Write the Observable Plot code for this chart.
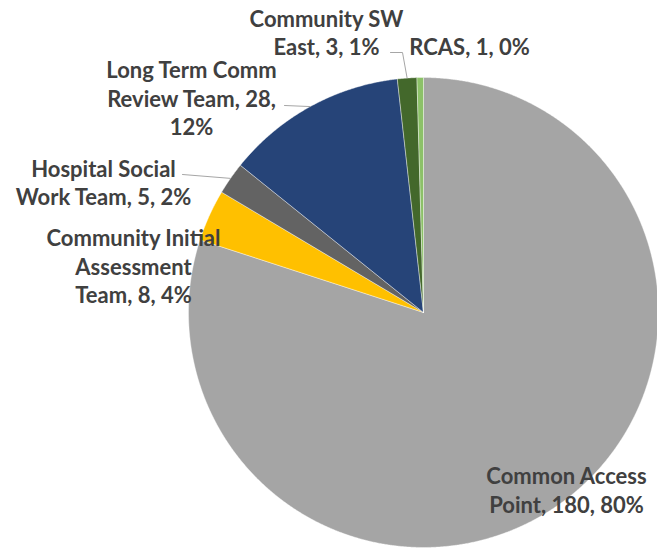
<!DOCTYPE html>
<html>
<head>
<meta charset="utf-8">
<script src="https://cdn.jsdelivr.net/npm/d3@7"></script>
<script src="https://cdn.jsdelivr.net/npm/@observablehq/plot@0.6"></script>
<style>
  html, body { margin: 0; padding: 0; background: #ffffff; }
</style>
</head>
<body>
<div id="chart"></div>
<script>
// ---- data ----
const categories = [
  "Common Access Point",
  "Community Initial Assessment Team",
  "Hospital Social Work Team",
  "Long Term Comm Review Team",
  "Community SW East",
  "RCAS"
];
const values = [180, 8, 5, 28, 3, 1];
const labelTexts = [
  "Common Access\nPoint, 180, 80%",
  "Community Initial\nAssessment\nTeam, 8, 4%",
  "Hospital Social\nWork Team, 5, 2%",
  "Long Term Comm\nReview Team, 28,\n12%",
  "Community SW\nEast, 3, 1%",
  "RCAS, 1, 0%"
];
const colors = ["#a5a5a5", "#ffc000", "#636363", "#264478", "#43682b", "#8cc168"];

// ---- layout (label placement, in units of the pie radius) ----
const cx = 423, cy = 312, R = 235;
const toX = px => (px - cx) / R;
const toY = py => (cy - py) / R;
const labelPos = [
  [566, 489],
  [133, 265],
  [103, 181.5],
  [191, 97],
  [326, 31.5],
  [469, 45]
];
// leader start points (label side) — null when no leader
const leaderStart = [null, null, [[182, 174]], [[284, 105]], [[390, 52], [402, 52]], null];

// ---- pie geometry via d3.pie ----
const arcs = d3.pie().sort(null).startAngle(0).endAngle(2 * Math.PI)(values);
const marks = [];
arcs.forEach((a, i) => {
  const pts = [{x: 0, y: 0}];
  const n = Math.max(2, Math.ceil((a.endAngle - a.startAngle) / (Math.PI / 720)));
  for (let k = 0; k <= n; k++) {
    const t = a.startAngle + (a.endAngle - a.startAngle) * k / n;
    pts.push({x: Math.sin(t), y: Math.cos(t)});
  }
  pts.push({x: 0, y: 0});
  marks.push(Plot.line(pts, {x: "x", y: "y", fill: colors[i], stroke: "#ffffff", strokeWidth: 0.4, curve: "linear"}));
});

// leader lines
arcs.forEach((a, i) => {
  if (!leaderStart[i]) return;
  const mid = (a.startAngle + a.endAngle) / 2;
  const pts = leaderStart[i].map(([px, py]) => ({x: toX(px), y: toY(py)}));
  pts.push({x: Math.sin(mid), y: Math.cos(mid)});
  marks.push(Plot.line(pts, {x: "x", y: "y", stroke: "#a6a6a6", strokeWidth: 1}));
});

// labels
const labels = categories.map((c, i) => ({
  text: labelTexts[i],
  x: toX(labelPos[i][0]),
  y: toY(labelPos[i][1])
}));
marks.push(Plot.text(labels, {
  x: "x", y: "y", text: "text",
  textAnchor: "middle", lineAnchor: "middle",
  fontSize: 22, fontWeight: "bold", fill: "#404040", lineHeight: 1.28
}));

const chart = Plot.plot({
  width: 657,
  height: 549,
  margin: 0,
  x: {domain: [-1, 1], range: [cx - R, cx + R], axis: null},
  y: {domain: [-1, 1], range: [cy + R, cy - R], axis: null},
  style: {fontFamily: "Lato, 'Open Sans', sans-serif", background: "#ffffff", overflow: "visible"},
  marks
});
document.getElementById("chart").appendChild(chart);
</script>
</body>
</html>
